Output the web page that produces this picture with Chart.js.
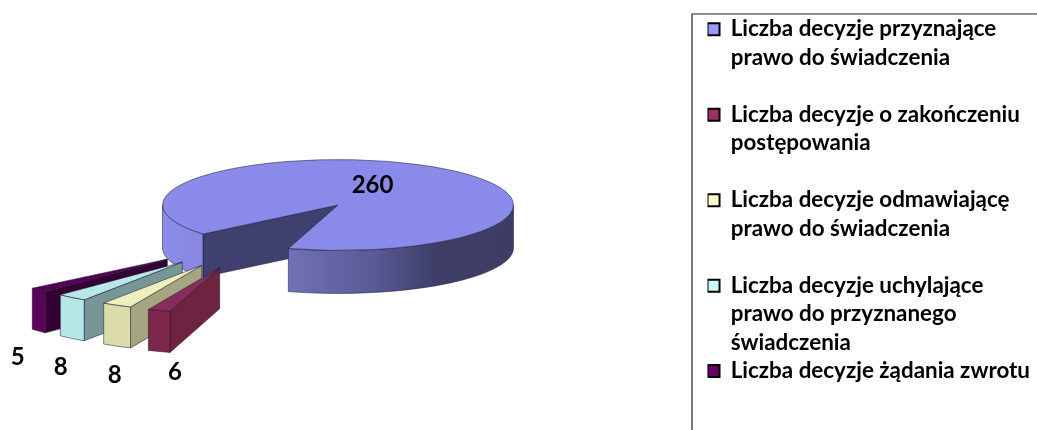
<!DOCTYPE html>
<html>
<head>
<meta charset="utf-8">
<title>Liczba decyzji</title>
<script src="https://cdn.jsdelivr.net/npm/chart.js@4"></script>
<style>
html, body { margin: 0; padding: 0; background: #fff; }
canvas { display: block; }
</style>
</head>
<body>
<canvas id="myChart" width="1037" height="430"></canvas>
<script>
// data
var categories = [
    ['Liczba decyzje przyznające', 'prawo do świadczenia'],
    ['Liczba decyzje o zakończeniu', 'postępowania'],
    ['Liczba decyzje odmawiającę', 'prawo do świadczenia'],
    ['Liczba decyzje uchylające', 'prawo do przyznanego', 'świadczenia'],
    ['Liczba decyzje żądania zwrotu']
];
var values = [260, 6, 8, 8, 5];

// colours
var legendColors = ['#9999ff', '#993366', '#ffffcc', '#ccffff', '#660066'];
var topColors = ['#8a8aeb', '#872d5a', '#eeeebe', '#b9e8e8', '#550055'];
var rimColors = ['#8a8aeb', '#7d284b', '#dcdcaa', '#b6e6e6', '#5a005a'];
var sideColors = ['#40406e', '#6e2341', '#a5a582', '#789696', '#320032'];

// projection of the flat pie
var CX = 338, CY = 205, RADIUS = 175.5, SQUASH = 0.259, DEPTH = 43, SMALL_DEPTH = 41;
var EXPLODE = 270;
var LABEL_NUDGE = [[-62, 18], [16, 62], [-2, 70], [-11, 70], [-21, 67]];

function drawSlice(ctx, arc, i) {
    var a = arc.startAngle, b = arc.endAngle, r = arc.outerRadius;
    var ox = 0, oy = 0;
    if (i > 0) {
        // small slices are pulled out to the lower left
        var midDeg = ((a + b) / 2 * 180 / Math.PI) % 360;
        var dir = (midDeg * 0.49 + 62) * Math.PI / 180;
        ox = EXPLODE * Math.cos(dir);
        oy = EXPLODE * Math.sin(dir) * SQUASH;
    }
    var cx = CX + ox, cy = CY + oy, ry = r * SQUASH;
    var depth = i === 0 ? DEPTH : SMALL_DEPTH;
    ctx.lineWidth = 0.8;
    ctx.lineJoin = 'round';
    ctx.strokeStyle = 'rgba(25,25,50,0.65)';

    // cut face, only the one turned to the viewer
    if (Math.sin(a - Math.PI / 2) > 0) {
        var ex = cx + r * Math.cos(a), ey = cy + ry * Math.sin(a);
        ctx.beginPath();
        ctx.moveTo(cx, cy);
        ctx.lineTo(ex, ey);
        ctx.lineTo(ex, ey + depth);
        ctx.lineTo(cx, cy + depth);
        ctx.closePath();
        ctx.fillStyle = sideColors[i];
        ctx.fill();
        ctx.stroke();
    }

    // outer rim, front half only
    var fill = rimColors[i];
    if (i === 0) {
        fill = ctx.createLinearGradient(cx - r, 0, cx + r, 0);
        fill.addColorStop(0, '#8c8ceb');
        fill.addColorStop(0.12, '#8787e1');
        fill.addColorStop(0.36, '#7070b6');
        fill.addColorStop(0.6, '#5a5a96');
        fill.addColorStop(0.78, '#3e3e69');
        fill.addColorStop(1, '#3c3c64');
    }
    for (var k = 0; k < 2; k++) {
        var s = Math.max(a, k * 2 * Math.PI);
        var e = Math.min(b, k * 2 * Math.PI + Math.PI);
        if (e <= s) continue;
        ctx.beginPath();
        ctx.ellipse(cx, cy, r, ry, 0, s, e);
        ctx.ellipse(cx, cy + depth, r, ry, 0, e, s, true);
        ctx.closePath();
        ctx.fillStyle = fill;
        ctx.fill();
        ctx.stroke();
    }

    // top
    ctx.beginPath();
    ctx.moveTo(cx, cy);
    ctx.ellipse(cx, cy, r, ry, 0, a, b);
    ctx.closePath();
    ctx.fillStyle = topColors[i];
    ctx.fill();
    ctx.stroke();

    // where the value label hangs from
    var mid = (a + b) / 2;
    return [cx + r * Math.cos(mid), cy + ry * Math.sin(mid)];
}

var pie3d = {
    id: 'pie3d',
    beforeDatasetDraw: function(chart) {
        var ctx = chart.ctx;
        var arcs = chart.getDatasetMeta(0).data;
        var anchors = [];
        ctx.save();
        // big slice first, then back to front
        anchors[0] = drawSlice(ctx, arcs[0], 0);
        for (var i = arcs.length - 1; i > 0; i--) {
            anchors[i] = drawSlice(ctx, arcs[i], i);
        }
        ctx.fillStyle = '#000';
        ctx.font = 'bold 24px Lato';
        ctx.textAlign = 'center';
        ctx.textBaseline = 'middle';
        for (var j = 0; j < arcs.length; j++) {
            ctx.fillText(values[j], anchors[j][0] + LABEL_NUDGE[j][0], anchors[j][1] + LABEL_NUDGE[j][1]);
        }
        // legend frame, open at the right and bottom
        ctx.strokeStyle = '#222';
        ctx.lineWidth = 1.2;
        ctx.beginPath();
        ctx.moveTo(692, 430);
        ctx.lineTo(692, 14);
        ctx.lineTo(1037, 14);
        ctx.stroke();
        ctx.restore();
        return false;
    }
};

var myChart = new Chart(document.getElementById('myChart').getContext('2d'), {
    type: 'pie',
    plugins: [pie3d],
    data: {
        labels: categories,
        datasets: [{
            data: values,
            backgroundColor: legendColors,
            radius: RADIUS,
            rotation: 230.3
        }]
    },
    options: {
        responsive: false,
        animation: false,
        devicePixelRatio: 1,
        layout: { padding: { top: 18, right: -3 } },
        plugins: {
            tooltip: { enabled: false },
            legend: {
                position: 'right',
                align: 'start',
                labels: {
                    boxWidth: 12,
                    boxHeight: 12,
                    padding: 0,
                    color: '#000',
                    font: { family: 'Lato', weight: 'bold', size: 22.4, lineHeight: 1.272 },
                    generateLabels: function() {
                        return categories.map(function(lines, i) {
                            var text = lines.slice();
                            // every entry but the last takes three lines
                            while (i < categories.length - 1 && text.length < 3) text.push('');
                            return {
                                text: text,
                                fillStyle: legendColors[i],
                                strokeStyle: '#000',
                                lineWidth: 2,
                                hidden: false,
                                index: i
                            };
                        });
                    }
                }
            }
        }
    }
});
</script>
</body>
</html>
